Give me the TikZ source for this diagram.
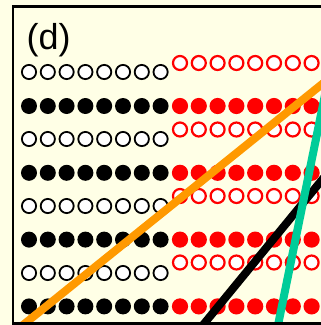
\documentclass[tikz,border=0pt]{standalone}
\usepackage{fontspec}
\setmainfont{Liberation Sans}
\definecolor{bg}{RGB}{255,255,230}
\definecolor{orng}{RGB}{255,153,0}
\definecolor{tealc}{RGB}{0,204,153}
\begin{document}
\begin{tikzpicture}[x=1pt,y=-1pt,
  bopen/.style={draw=black,fill=white,line width=1.8pt},
  bfill/.style={fill=black},
  ropen/.style={draw=red,fill=white,line width=2.2pt},
  rfill/.style={fill=red},
  trend/.style={line width=8pt},
  frameline/.style={draw=black,line width=2.6pt}]
\useasboundingbox (0,0) rectangle (321,325);
\clip (0,0) rectangle (321,325);
\fill[bg] (0,0) rectangle (321,325);
\node[anchor=base west, inner sep=0pt, font=\fontsize{36}{40}\selectfont] (label) at (26.5,49) {(d)};
\foreach \r in {0,...,3}{
  \foreach \i in {0,...,7}{
    \draw[bopen] ({29+18.8*\i},{72+67*\r}) circle (7.1);
    \fill[bfill] ({29+18.8*\i},{106+66.8*\r}) circle (8);
    \draw[ropen] ({180+18.8*\i},{63+66.5*\r}) circle (7.0);
    \fill[rfill] ({180+18.8*\i},{106+66.8*\r}) circle (8.1);
  }
}
\begin{scope}
  \clip (13,6.5) rectangle (340,323.5);
  \coordinate (oA) at (10.6,335);
  \coordinate (oB) at (335,73.7);
  \coordinate (kA) at (194.8,335);
  \coordinate (kB) at (335,164);
  \coordinate (tA) at (276,335);
  \coordinate (tB) at (327,85);
  \draw[trend,orng] (oA) -- (oB);
  \draw[trend,black] (kA) -- (kB);
  \draw[trend,tealc] (tA) -- (tB);
\end{scope}
\draw[frameline] (340,6.5) -- (13,6.5) -- (13,323.5) -- (340,323.5);
\end{tikzpicture}
\end{document}
